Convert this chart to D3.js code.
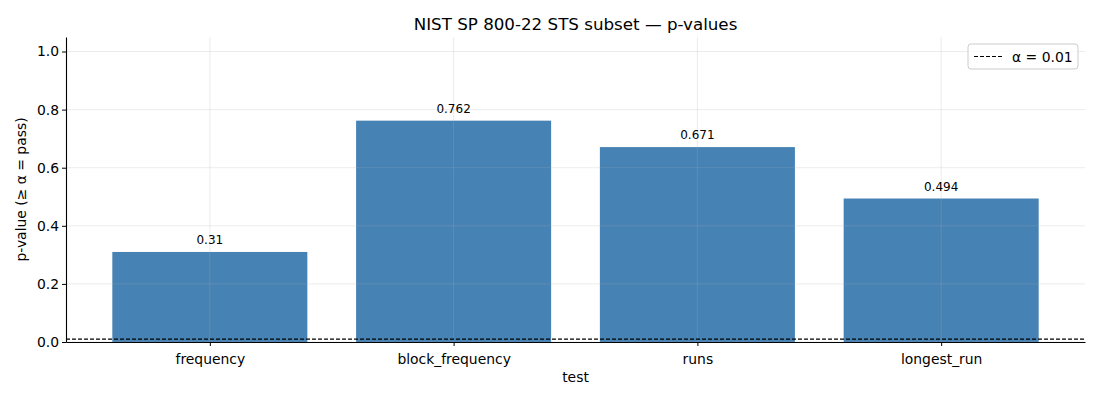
<!DOCTYPE html>
<html>
<head>
<meta charset="utf-8">
<script src="https://cdn.jsdelivr.net/npm/d3@7"></script>
<style>
  body { margin: 0; background: #fff; }
  svg { font-family: "DejaVu Sans", sans-serif; }
</style>
</head>
<body>
<div id="chart"></div>
<script>
// data
var tests = ["frequency", "block_frequency", "runs", "longest_run"];
var pvalues = [0.31, 0.762, 0.671, 0.494];
var pLabels = ["0.31", "0.762", "0.671", "0.494"];
var yTicks = [0, 0.2, 0.4, 0.6, 0.8, 1.0];
var alpha = 0.01;

let width = 1100;
let height = 400;
let margin = {left: 66, right: 15, top: 37, bottom: 58};

var svg = d3.select("#chart")
    .append("svg")
    .attr("width", width)
    .attr("height", height);

//x is linear like matplotlib: bar i sits at i, limits padded by 5%
var x = d3.scaleLinear()
    .domain([-0.59, tests.length - 1 + 0.59])
    .range([margin.left, width - margin.right]);

var y = d3.scaleLinear()
    .domain([0, 1.05])
    .range([height - margin.bottom, margin.top]);

let barW = x(0.8) - x(0);

//bars
svg.selectAll(".bar")
    .data(pvalues)
    .enter().append("rect")
    .attr("class", "bar")
    .attr("x", (d, i) => x(i) - barW / 2)
    .attr("y", d => y(d))
    .attr("width", barW)
    .attr("height", d => y(0) - y(d))
    .attr("fill", "#4682b4");

//grid on top of the bars, faint
var grid = svg.append("g").attr("stroke", "#b0b0b0").attr("stroke-opacity", 0.3).attr("stroke-width", 0.8);
grid.selectAll(".gy")
    .data(yTicks)
    .enter().append("line")
    .attr("x1", x.range()[0]).attr("x2", x.range()[1])
    .attr("y1", d => y(d)).attr("y2", d => y(d));
grid.selectAll(".gx")
    .data(tests)
    .enter().append("line")
    .attr("x1", (d, i) => x(i)).attr("x2", (d, i) => x(i))
    .attr("y1", y.range()[0]).attr("y2", y.range()[1]);

//value labels
svg.selectAll(".lbl")
    .data(pvalues)
    .enter().append("text")
    .attr("x", (d, i) => x(i))
    .attr("y", d => y(d) - 8)
    .attr("text-anchor", "middle")
    .attr("font-size", "12px")
    .attr("fill", "#000")
    .text((d, i) => pLabels[i]);

//alpha threshold
svg.append("line")
    .attr("x1", x.range()[0]).attr("x2", x.range()[1])
    .attr("y1", y(alpha)).attr("y2", y(alpha))
    .attr("stroke", "#000")
    .attr("stroke-width", 1.1)
    .attr("stroke-dasharray", "4,2");

//axes
var xAxis = svg.append("g")
    .attr("transform", "translate(0," + y(0) + ")")
    .call(d3.axisBottom(x).tickValues(d3.range(tests.length)).tickFormat(i => tests[i]).tickSize(4).tickSizeOuter(0));
var yAxis = svg.append("g")
    .attr("transform", "translate(" + margin.left + ",0)")
    .call(d3.axisLeft(y).tickValues(yTicks).tickFormat(d3.format(".1f")).tickSize(4).tickSizeOuter(0));

[xAxis, yAxis].forEach(a => {
    a.select(".domain").attr("stroke", "#000").attr("stroke-width", 1.1);
    a.selectAll(".tick line").attr("stroke", "#000");
    a.selectAll(".tick text").attr("font-size", "13.9px").attr("fill", "#000")
        .attr("font-family", "DejaVu Sans, sans-serif");
});
xAxis.selectAll(".tick text").attr("dy", "1.05em");

//title and axis labels
svg.append("text")
    .attr("x", (x.range()[0] + x.range()[1]) / 2)
    .attr("y", 30)
    .attr("text-anchor", "middle")
    .attr("font-size", "16.7px")
    .text("NIST SP 800-22 STS subset — p-values");

svg.append("text")
    .attr("x", (x.range()[0] + x.range()[1]) / 2)
    .attr("y", 382)
    .attr("text-anchor", "middle")
    .attr("font-size", "13.9px")
    .text("test");

svg.append("text")
    .attr("transform", "translate(26," + (y.range()[0] + y.range()[1]) / 2 + ") rotate(-90)")
    .attr("text-anchor", "middle")
    .attr("font-size", "13.9px")
    .text("p-value (≥ α = pass)");

//legend
var lg = svg.append("g").attr("transform", "translate(968,44)");
lg.append("rect")
    .attr("width", 110).attr("height", 25)
    .attr("rx", 3)
    .attr("fill", "#fff").attr("fill-opacity", 0.8)
    .attr("stroke", "#ccc");
lg.append("line")
    .attr("x1", 6).attr("x2", 34).attr("y1", 12.5).attr("y2", 12.5)
    .attr("stroke", "#000").attr("stroke-width", 1.1).attr("stroke-dasharray", "4,2");
lg.append("text")
    .attr("x", 44).attr("y", 17.5)
    .attr("font-size", "13.9px")
    .text("α = " + alpha);
</script>
</body>
</html>
